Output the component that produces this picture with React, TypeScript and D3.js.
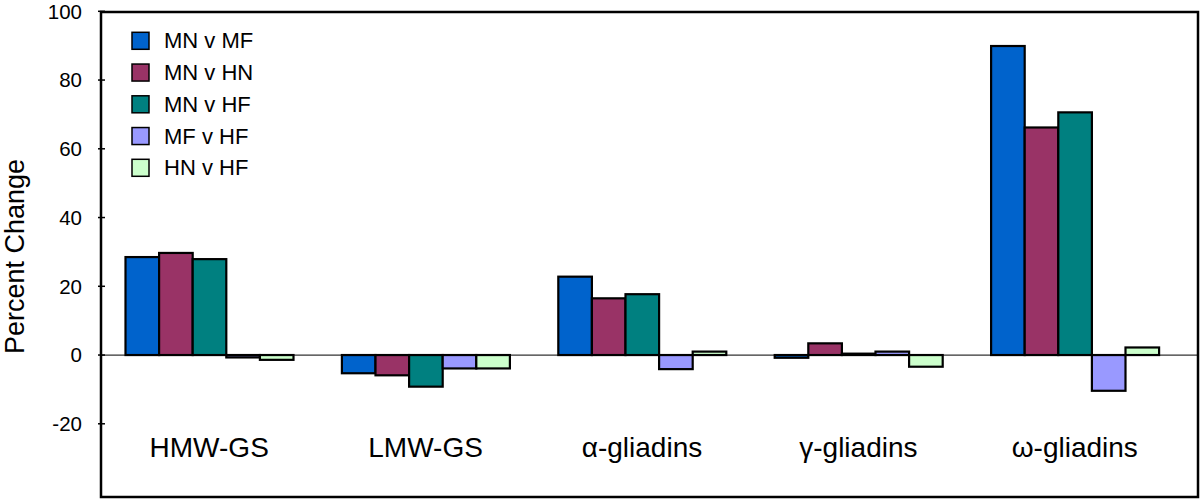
import React, { useEffect, useRef } from 'react';
import * as d3 from 'd3';

const categories = ['HMW-GS', 'LMW-GS', 'α-gliadins', 'γ-gliadins', 'ω-gliadins'];
const seriesNames = ['MN v MF', 'MN v HN', 'MN v HF', 'MF v HF', 'HN v HF'];
const seriesColors = ['#0063cc', '#993366', '#008080', '#9999ff', '#ccffcc'];

// one array per comparison, values in category order
const mnMf = [28.5, -5.3, 22.8, -0.8, 89.9];
const mnHn = [29.7, -5.9, 16.5, 3.4, 66.2];
const mnHf = [27.9, -9.2, 17.7, 0.4, 70.6];
const mfHf = [-0.7, -3.9, -4.1, 1.0, -10.4];
const hnHf = [-1.4, -3.9, 1.0, -3.4, 2.2];
const seriesValues = [mnMf, mnHn, mnHf, mfHf, hnHf];

const yTicks = [-20, 0, 20, 40, 60, 80, 100];

const W = 1200;
const H = 499;

export default function App() {
  const ref = useRef<SVGSVGElement>(null);

  useEffect(() => {
    const svg = d3.select(ref.current);
    svg.selectAll('*').remove();

    const left = 101, right = 1198, top = 12, bottom = 497;
    const font = '"Liberation Sans", Arial, Helvetica, sans-serif';

    const y = d3.scaleLinear().domain([-41.3, 100]).range([bottom, 11.3]);
    const x0 = d3.scaleBand<string>().domain(categories).range([left, 1183]);
    const x1 = d3.scaleBand<string>().domain(seriesNames).range([24.5, 192.5]);

    const g = svg.append('g');

    // zero line
    g.append('line')
      .attr('x1', left).attr('x2', right)
      .attr('y1', y(0)).attr('y2', y(0))
      .attr('stroke', '#333').attr('stroke-width', 1.2);

    // bars
    seriesNames.forEach((name, si) => {
      g.selectAll('.bar-' + si)
        .data(seriesValues[si])
        .enter()
        .append('rect')
        .attr('x', (d, i) => x0(categories[i])! + x1(name)!)
        .attr('width', x1.bandwidth())
        .attr('y', d => y(Math.max(0, d)))
        .attr('height', d => Math.abs(y(d) - y(0)))
        .attr('fill', seriesColors[si])
        .attr('stroke', '#000')
        .attr('stroke-width', 2.2);
    });

    // frame
    svg.append('rect')
      .attr('x', left).attr('y', top)
      .attr('width', right - left).attr('height', bottom - top)
      .attr('fill', 'none').attr('stroke', '#000').attr('stroke-width', 2.5);

    // y ticks
    yTicks.forEach(t => {
      svg.append('line')
        .attr('x1', left - 3).attr('x2', left + 4)
        .attr('y1', y(t)).attr('y2', y(t))
        .attr('stroke', '#000').attr('stroke-width', 1.5);
      svg.append('text')
        .attr('x', 82).attr('y', y(t))
        .attr('dy', '0.36em')
        .attr('text-anchor', 'end')
        .attr('font-family', font)
        .attr('font-size', 20.5)
        .text(t);
    });

    // y axis title
    svg.append('text')
      .attr('transform', `translate(24,${(top + bottom) / 2 + 2}) rotate(-90)`)
      .attr('text-anchor', 'middle')
      .attr('font-family', font)
      .attr('font-size', 27)
      .text('Percent Change');

    // category labels
    categories.forEach(c => {
      svg.append('text')
        .attr('x', x0(c)! + x0.bandwidth() / 2)
        .attr('y', 457)
        .attr('text-anchor', 'middle')
        .attr('font-family', font)
        .attr('font-size', 28)
        .text(c);
    });

    // legend
    seriesNames.forEach((name, i) => {
      const ly = 32.3 + i * 31.75;
      svg.append('rect')
        .attr('x', 132).attr('y', ly)
        .attr('width', 17).attr('height', 17)
        .attr('fill', seriesColors[i])
        .attr('stroke', '#000').attr('stroke-width', 1.5);
      svg.append('text')
        .attr('x', 164).attr('y', ly + 16)
        .attr('font-family', font)
        .attr('font-size', 22)
        .text(name);
    });
  }, []);

  return (
    <svg ref={ref} width={W} height={H} style={{ position: 'absolute', left: 0, top: 0, background: '#fff' }} />
  );
}
